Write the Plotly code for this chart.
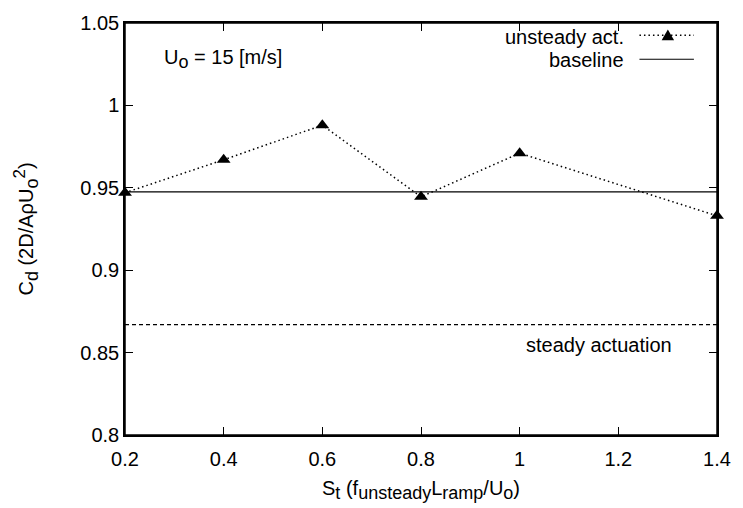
import plotly.graph_objects as go

# Data
st_values = [0.2, 0.4, 0.6, 0.8, 1.0, 1.4]
cd_unsteady = [0.947, 0.967, 0.988, 0.9445, 0.971, 0.933]
baseline_cd = 0.9475
steady_cd = 0.867
x_range = [0.2, 1.4]
y_range = [0.8, 1.05]
x_ticks = [0.2, 0.4, 0.6, 0.8, 1.0, 1.2, 1.4]
x_ticklabels = ["0.2", "0.4", "0.6", "0.8", "1", "1.2", "1.4"]
y_ticks = [0.8, 0.85, 0.9, 0.95, 1.0, 1.05]
y_ticklabels = ["0.8", "0.85", "0.9", "0.95", "1", "1.05"]

FONT = "Liberation Sans, Arial, Helvetica, sans-serif"
FS = 20


def sub(t):
    return '<sub><span style="font-size:18px">' + t + '</span></sub>'


def sup(t):
    return '<sup><span style="font-size:17px">' + t + '</span></sup>'


fig = go.Figure()
fig.add_trace(go.Scatter(x=x_range, y=[baseline_cd, baseline_cd], mode="lines",
                         line=dict(color="black", width=1.2), showlegend=False))
fig.add_trace(go.Scatter(x=x_range, y=[steady_cd, steady_cd], mode="lines",
                         line=dict(color="black", width=1.2, dash="4px,3px"), showlegend=False))
fig.add_trace(go.Scatter(x=st_values, y=cd_unsteady, mode="lines+markers",
                         line=dict(color="black", width=1.5, dash="1.5px,3px"),
                         marker=dict(symbol="triangle-up", size=12, color="black"),
                         showlegend=False, cliponaxis=False))

axis_common = dict(showline=True, linecolor="black", linewidth=1.5, mirror="ticks",
                   ticks="inside", ticklen=8, tickwidth=1.2, tickcolor="black",
                   showgrid=False, zeroline=False,
                   tickfont=dict(family=FONT, size=FS, color="black"))

fig.update_layout(
    width=743, height=508,
    margin=dict(l=125, r=21, t=20, b=70),
    plot_bgcolor="white", paper_bgcolor="white",
    font=dict(family=FONT, size=FS, color="black"),
    xaxis=dict(range=x_range, tickvals=x_ticks, ticktext=x_ticklabels,
               ticklabelstandoff=5,
               title=dict(text="S" + sub("t") + " (f" + sub("unsteady") + "L" + sub("ramp") + "/U" + sub("o") + ")",
                          font=dict(family=FONT, size=FS), standoff=12),
               **axis_common),
    yaxis=dict(range=y_range, tickvals=y_ticks, ticktext=y_ticklabels,
               title=dict(text="C" + sub("d") + " (2D/AρU" + sub("o") + sup("2") + ")",
                          font=dict(family=FONT, size=FS), standoff=41),
               **axis_common),
)

# Plot frame
fig.add_shape(type="rect", xref="paper", yref="paper", x0=0, x1=1, y0=0, y1=1,
              line=dict(color="black", width=1.5), layer="above")

# Annotations
fig.add_annotation(text="U" + sub("o") + " = 15 [m/s]", xref="paper", yref="paper",
                   x=0.062, y=0.912, xanchor="left", yanchor="middle", showarrow=False,
                   font=dict(family=FONT, size=FS))
fig.add_annotation(text="steady actuation", xref="paper", yref="paper",
                   x=0.928, y=0.218, xanchor="right", yanchor="middle", showarrow=False,
                   font=dict(family=FONT, size=FS))

# Legend (manual)
fig.add_annotation(text="unsteady act.", xref="paper", yref="paper",
                   x=0.845, y=0.967, xanchor="right", yanchor="middle", showarrow=False,
                   borderpad=0, font=dict(family=FONT, size=FS))
fig.add_annotation(text="baseline", xref="paper", yref="paper",
                   x=0.845, y=0.909, xanchor="right", yanchor="middle", showarrow=False,
                   borderpad=0, font=dict(family=FONT, size=FS))
fig.add_shape(type="line", xref="paper", yref="paper", x0=0.869, x1=0.961, y0=0.970, y1=0.970,
              line=dict(color="black", width=1.5, dash="1.5px,3px"))
fig.add_shape(type="line", xref="paper", yref="paper", x0=0.869, x1=0.961, y0=0.912, y1=0.912,
              line=dict(color="black", width=1.2))
fig.add_shape(type="path", xref="paper", yref="paper",
              path="M 0.9065 0.958 L 0.9275 0.958 L 0.917 0.984 Z",
              fillcolor="black", line=dict(color="black", width=0))

fig.write_html("out.html", config={"displayModeBar": False},
               post_script="document.body.style.margin='0';")
